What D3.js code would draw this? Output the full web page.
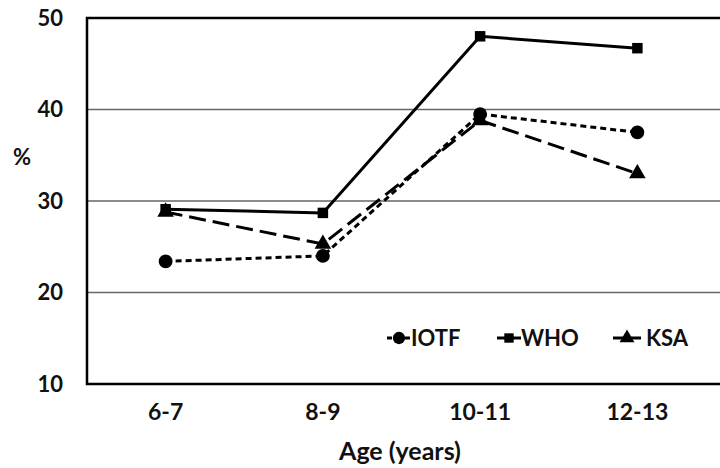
<!DOCTYPE html>
<html>
<head>
<meta charset="utf-8">
<script src="https://cdn.jsdelivr.net/npm/d3@7"></script>
<style>
  body { margin: 0; background: #fff; }
  text { font-family: Lato, "Open Sans", sans-serif; font-weight: bold; fill: #111; }
</style>
</head>
<body>
<script>
// Chart data
const ages = ["6-7", "8-9", "10-11", "12-13"];
const iotf = [23.4, 24.0, 39.5, 37.5];
const who = [29.1, 28.7, 48.0, 46.7];
const ksa = [28.8, 25.3, 38.8, 33.0];
const yTicks = [10, 20, 30, 40, 50];

const series = [
  { name: "IOTF", values: iotf, dash: "6,4", symbol: d3.symbolCircle, size: 150 },
  { name: "WHO", values: who, dash: null, symbol: d3.symbolSquare, size: 110 },
  { name: "KSA", values: ksa, dash: "17,7", symbol: d3.symbolTriangle, size: 120 }
];

const W = 720, H = 468;
const plot = { left: 87, right: 716, top: 18, bottom: 384 };

const svg = d3.select("body").append("svg")
    .attr("width", W)
    .attr("height", H);

const x = d3.scaleBand().domain(ages).range([plot.left, plot.right]);
const y = d3.scaleLinear().domain([10, 50]).range([plot.bottom, plot.top]);

// gridlines
svg.append("g").selectAll("line")
    .data(yTicks.filter(d => d > 10 && d < 50))
    .enter().append("line")
    .attr("x1", plot.left).attr("x2", W)
    .attr("y1", d => y(d)).attr("y2", d => y(d))
    .attr("stroke", "#666").attr("stroke-width", 1.3);

// frame: top, left, bottom
svg.append("path")
    .attr("d", `M${W},${y(50)}H${plot.left}V${y(10)}H${W}`)
    .attr("fill", "none").attr("stroke", "#000").attr("stroke-width", 2.5);

// y tick labels
svg.append("g").selectAll("text")
    .data(yTicks)
    .enter().append("text")
    .attr("x", 63).attr("y", d => y(d))
    .attr("dy", "0.36em")
    .attr("text-anchor", "end")
    .style("font-size", "22px")
    .text(d => d);

// x tick labels
svg.append("g").selectAll("text")
    .data(ages)
    .enter().append("text")
    .attr("x", d => x(d) + x.bandwidth() / 2)
    .attr("y", 420)
    .attr("text-anchor", "middle")
    .style("font-size", "23px")
    .text(d => d);

// axis titles
svg.append("text").attr("x", 400).attr("y", 460)
    .attr("text-anchor", "middle").style("font-size", "25px").text("Age (years)");
svg.append("text").attr("x", 22).attr("y", 165)
    .attr("text-anchor", "middle").style("font-size", "22px").text("%");

const line = d3.line()
    .x((d, i) => x(ages[i]) + x.bandwidth() / 2)
    .y(d => y(d));

series.forEach(s => {
  svg.append("path")
      .datum(s.values)
      .attr("d", line)
      .attr("fill", "none")
      .attr("stroke", "#000")
      .attr("stroke-width", 3)
      .attr("stroke-dasharray", s.dash);
  svg.append("g").selectAll("path")
      .data(s.values)
      .enter().append("path")
      .attr("transform", (d, i) => `translate(${x(ages[i]) + x.bandwidth() / 2},${y(d)})`)
      .attr("d", d3.symbol().type(s.symbol).size(s.size))
      .attr("fill", "#000");
});

// legend
const legendX = [387, 497, 613];
const legendY = 338;
series.forEach((s, i) => {
  const g = svg.append("g").attr("transform", `translate(${legendX[i]},${legendY})`);
  const len = i === 2 ? 28 : 24;
  g.append("line")
      .attr("x1", 0).attr("x2", len)
      .attr("stroke", "#000").attr("stroke-width", 3)
      .attr("stroke-dasharray", i === 0 ? "5,4" : null);
  g.append("path")
      .attr("transform", `translate(${len / 2},0)`)
      .attr("d", d3.symbol().type(s.symbol).size(s.size * 0.8))
      .attr("fill", "#000");
  g.append("text")
      .attr("x", i === 2 ? 33 : 24).attr("dy", "0.36em")
      .style("font-size", "22px")
      .text(s.name);
});
</script>
</body>
</html>
